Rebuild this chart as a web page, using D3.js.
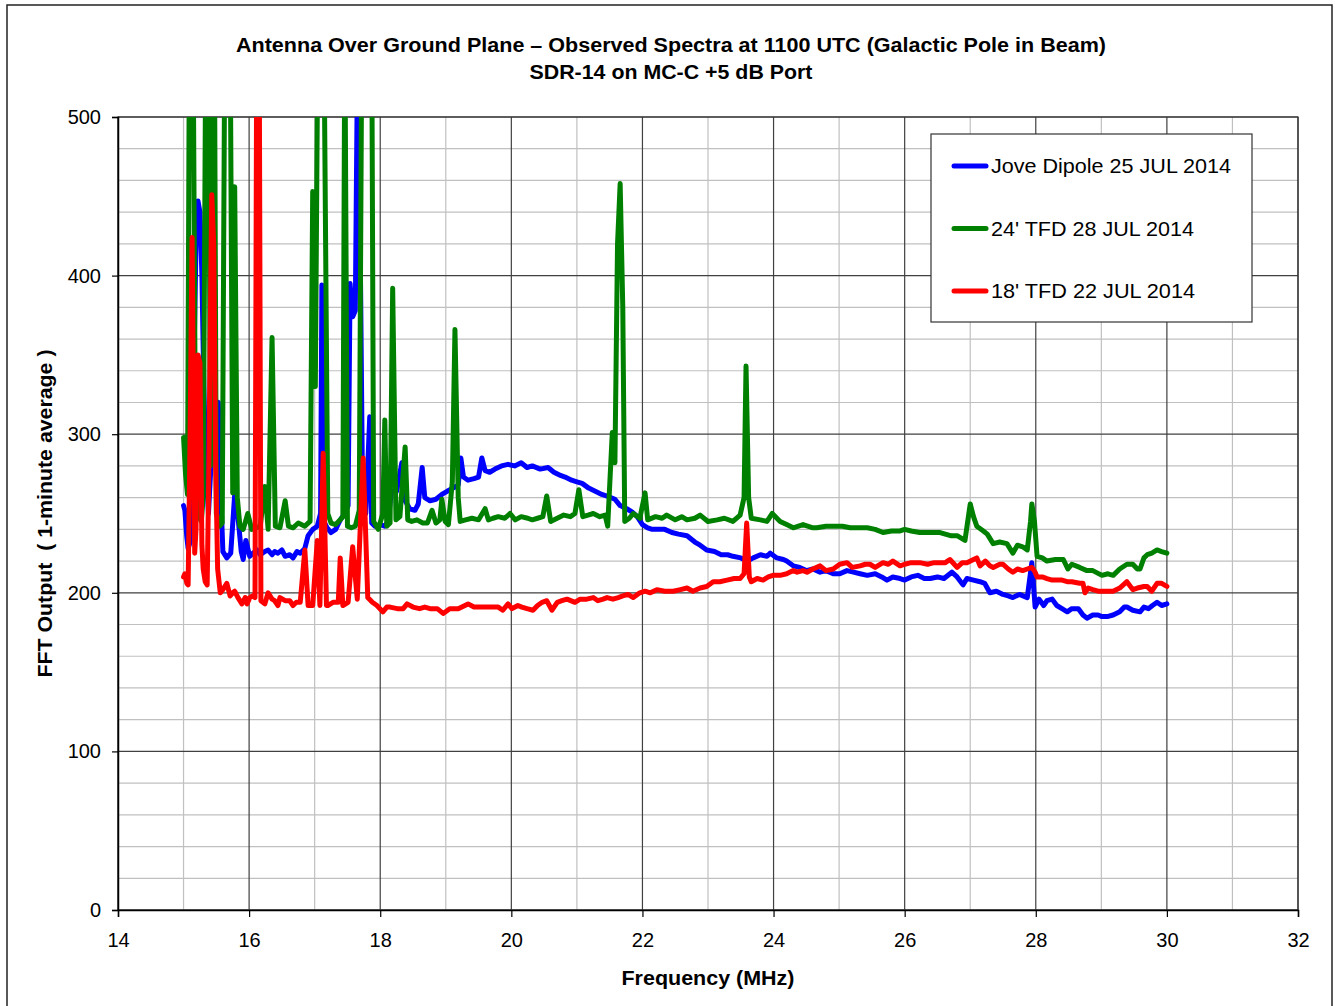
<!DOCTYPE html>
<html>
<head>
<meta charset="utf-8">
<script src="https://cdn.jsdelivr.net/npm/d3@7"></script>
<style>
  html, body { margin: 0; padding: 0; background: #fff; }
  svg { display: block; font-family: "Liberation Sans", Arial, sans-serif; }
  .tick text { font-size: 20px; fill: #000; }
</style>
</head>
<body>
<svg id="chart" width="1335" height="1006"></svg>
<script>
// spectra: [frequency MHz, FFT output]
const jovePts = [
  [15.00, 255], [15.02, 252], [15.05, 235], [15.07, 228], [15.10, 232], [15.14, 300], [15.19, 420], [15.22, 447],
  [15.25, 440], [15.28, 400], [15.31, 330], [15.34, 280], [15.38, 250], [15.43, 290], [15.48, 318], [15.53, 320],
  [15.57, 260], [15.60, 226], [15.66, 222], [15.72, 225], [15.78, 262], [15.83, 248], [15.88, 226], [15.91, 221],
  [15.95, 233], [15.98, 228], [16.01, 223], [16.06, 225], [16.12, 227], [16.17, 224], [16.24, 226], [16.29, 227],
  [16.35, 224], [16.39, 226], [16.44, 225], [16.50, 227], [16.55, 223], [16.62, 224], [16.67, 222], [16.73, 226],
  [16.78, 225], [16.85, 228], [16.90, 236], [16.97, 240], [17.04, 242], [17.09, 250], [17.11, 394], [17.14, 245],
  [17.19, 241], [17.25, 238], [17.32, 240], [17.39, 246], [17.46, 250], [17.51, 255], [17.54, 395], [17.58, 374],
  [17.62, 378], [17.65, 520], [17.68, 520], [17.70, 395], [17.73, 265], [17.78, 250], [17.84, 311], [17.87, 244],
  [17.92, 242], [18.00, 243], [18.07, 242], [18.12, 245], [18.17, 264], [18.25, 264], [18.33, 282], [18.38, 258],
  [18.45, 253], [18.53, 252], [18.58, 256], [18.64, 279], [18.68, 260], [18.76, 258], [18.85, 259], [18.94, 262],
  [19.02, 264], [19.11, 266], [19.19, 268], [19.23, 285], [19.27, 273], [19.34, 271], [19.43, 272], [19.50, 273],
  [19.55, 285], [19.60, 277], [19.67, 276], [19.75, 278], [19.85, 280], [19.95, 281], [20.05, 280], [20.15, 282],
  [20.24, 279], [20.32, 280], [20.44, 278], [20.56, 279], [20.65, 276], [20.75, 274], [20.82, 273], [20.92, 271],
  [21.00, 270], [21.08, 269], [21.18, 266], [21.28, 264], [21.38, 262], [21.46, 261], [21.58, 259], [21.66, 255],
  [21.76, 253], [21.84, 251], [21.92, 248], [22.00, 243], [22.08, 241], [22.15, 240], [22.25, 240], [22.34, 240],
  [22.45, 238], [22.55, 237], [22.68, 236], [22.80, 232], [22.88, 230], [22.98, 227], [23.10, 226], [23.20, 224],
  [23.30, 224], [23.38, 223], [23.50, 222], [23.60, 220], [23.69, 222], [23.80, 224], [23.90, 223], [23.95, 225],
  [24.05, 222], [24.15, 221], [24.20, 220], [24.30, 217], [24.40, 216], [24.50, 214], [24.60, 215], [24.71, 213],
  [24.80, 214], [24.91, 212], [25.01, 212], [25.12, 214], [25.22, 213], [25.32, 212], [25.43, 211], [25.55, 212],
  [25.65, 210], [25.73, 208], [25.82, 210], [25.93, 209], [26.00, 208], [26.10, 210], [26.20, 211], [26.30, 209],
  [26.39, 209], [26.50, 210], [26.60, 209], [26.72, 213], [26.80, 210], [26.89, 205], [26.95, 209], [27.05, 208],
  [27.15, 207], [27.22, 206], [27.30, 200], [27.40, 201], [27.50, 199], [27.58, 198], [27.65, 197], [27.75, 199],
  [27.87, 197], [27.94, 219], [27.99, 191], [28.05, 196], [28.12, 192], [28.17, 195], [28.25, 196], [28.32, 192],
  [28.40, 190], [28.48, 188], [28.55, 190], [28.65, 190], [28.72, 186], [28.78, 184], [28.87, 186], [28.95, 186],
  [29.01, 185], [29.09, 185], [29.18, 186], [29.28, 188], [29.35, 191], [29.39, 191], [29.48, 189], [29.59, 188],
  [29.65, 191], [29.72, 190], [29.78, 192], [29.85, 194], [29.92, 192], [30.00, 193]
]

const tfd24Pts = [
  [15.00, 298], [15.03, 275], [15.06, 262], [15.09, 560], [15.12, 560], [15.15, 520], [15.18, 300], [15.21, 250], [15.27, 245],
  [15.30, 260], [15.34, 560], [15.38, 560], [15.41, 280], [15.44, 560], [15.47, 560], [15.50, 250], [15.55, 242], [15.59, 244], [15.63, 560],
  [15.67, 560], [15.71, 560], [15.75, 263], [15.78, 456], [15.82, 260], [15.86, 242], [15.91, 240], [15.98, 250], [16.04, 240],
  [16.10, 241], [16.17, 242], [16.24, 267], [16.29, 240], [16.35, 361], [16.40, 242], [16.47, 241], [16.55, 258],
  [16.60, 242], [16.67, 241], [16.75, 244], [16.85, 242], [16.93, 245], [16.97, 453], [17.01, 330], [17.05, 560],
  [17.08, 560], [17.11, 560], [17.14, 560], [17.20, 250], [17.25, 244], [17.32, 243], [17.39, 246], [17.43, 248], [17.46, 560], [17.50, 242],
  [17.56, 241], [17.62, 242], [17.68, 252], [17.72, 560], [17.75, 560], [17.78, 560], [17.81, 560], [17.84, 560], [17.87, 560], [17.90, 245],
  [17.97, 240], [18.04, 250], [18.07, 309], [18.10, 242], [18.15, 244], [18.19, 392], [18.24, 246], [18.30, 248],
  [18.38, 292], [18.42, 246], [18.48, 245], [18.56, 246], [18.65, 244], [18.72, 244], [18.79, 252], [18.85, 244],
  [18.91, 246], [18.94, 259], [18.99, 245], [19.04, 243], [19.10, 270], [19.14, 366], [19.19, 260], [19.22, 245],
  [19.30, 246], [19.40, 247], [19.50, 246], [19.60, 253], [19.65, 246], [19.72, 247], [19.80, 248], [19.90, 247],
  [19.98, 250], [20.06, 246], [20.15, 248], [20.25, 247], [20.32, 246], [20.40, 247], [20.48, 248], [20.54, 261],
  [20.60, 245], [20.70, 247], [20.80, 249], [20.90, 248], [20.97, 250], [21.03, 265], [21.09, 248], [21.17, 249],
  [21.25, 250], [21.35, 248], [21.43, 249], [21.47, 242], [21.54, 301], [21.58, 282], [21.62, 420], [21.66, 458],
  [21.70, 380], [21.73, 245], [21.80, 247], [21.86, 250], [21.96, 247], [22.04, 263], [22.08, 246], [22.20, 248],
  [22.30, 247], [22.37, 249], [22.50, 246], [22.60, 248], [22.68, 246], [22.80, 247], [22.88, 249], [23.00, 245],
  [23.14, 246], [23.25, 247], [23.38, 245], [23.49, 249], [23.55, 260], [23.58, 343], [23.62, 260], [23.66, 247],
  [23.80, 246], [23.90, 245], [23.98, 250], [24.10, 245], [24.20, 243], [24.30, 241], [24.45, 243], [24.60, 241],
  [24.66, 241], [24.80, 242], [24.91, 242], [25.05, 242], [25.17, 241], [25.30, 241], [25.43, 241], [25.55, 240],
  [25.67, 238], [25.80, 239], [25.93, 239], [26.00, 240], [26.10, 239], [26.23, 238], [26.40, 238], [26.54, 238],
  [26.70, 236], [26.80, 236], [26.92, 233], [27.00, 256], [27.05, 248], [27.10, 242], [27.20, 239], [27.26, 237],
  [27.35, 231], [27.45, 232], [27.56, 231], [27.65, 225], [27.72, 230], [27.80, 229], [27.87, 227], [27.92, 245],
  [27.94, 256], [27.98, 245], [28.02, 223], [28.10, 222], [28.17, 220], [28.30, 221], [28.42, 221], [28.49, 215],
  [28.55, 218], [28.67, 216], [28.78, 214], [28.87, 214], [29.01, 211], [29.10, 212], [29.18, 211], [29.28, 215],
  [29.39, 218], [29.48, 218], [29.55, 215], [29.59, 215], [29.65, 222], [29.70, 224], [29.77, 225], [29.85, 227],
  [29.92, 226], [30.00, 225]
]

const tfd18Pts = [
  [15.00, 210], [15.02, 212], [15.05, 206], [15.07, 205], [15.10, 300], [15.13, 424], [15.15, 330], [15.17, 225],
  [15.19, 240], [15.22, 350], [15.25, 345], [15.28, 230], [15.30, 215], [15.33, 207], [15.36, 205], [15.38, 260],
  [15.43, 451], [15.46, 420], [15.49, 280], [15.52, 215], [15.56, 200], [15.60, 202], [15.66, 206], [15.71, 198],
  [15.75, 200], [15.78, 201], [15.83, 197], [15.89, 193], [15.94, 197], [15.97, 193], [16.01, 197], [16.05, 198],
  [16.09, 197], [16.12, 600], [16.15, 600], [16.18, 195], [16.24, 193], [16.29, 200], [16.35, 196], [16.39, 195],
  [16.44, 192], [16.47, 197], [16.55, 195], [16.62, 195], [16.67, 192], [16.72, 194], [16.78, 194], [16.85, 227],
  [16.90, 192], [16.97, 192], [17.04, 233], [17.08, 192], [17.13, 288], [17.18, 192], [17.20, 192], [17.28, 194],
  [17.36, 194], [17.39, 222], [17.43, 192], [17.51, 194], [17.58, 229], [17.65, 196], [17.74, 285], [17.81, 197],
  [17.88, 194], [17.95, 192], [18.04, 188], [18.10, 191], [18.15, 191], [18.26, 190], [18.35, 190], [18.41, 193],
  [18.50, 191], [18.60, 190], [18.68, 191], [18.76, 190], [18.87, 190], [18.96, 187], [19.06, 190], [19.19, 190],
  [19.34, 193], [19.43, 191], [19.55, 191], [19.67, 191], [19.80, 191], [19.87, 189], [19.95, 193], [20.01, 190],
  [20.10, 192], [20.16, 191], [20.24, 190], [20.33, 189], [20.40, 192], [20.47, 194], [20.54, 195], [20.62, 189],
  [20.70, 194], [20.77, 195], [20.85, 196], [20.97, 194], [21.05, 196], [21.15, 196], [21.25, 197], [21.32, 195],
  [21.40, 196], [21.46, 197], [21.55, 196], [21.63, 197], [21.70, 198], [21.78, 199], [21.86, 197], [21.96, 200],
  [22.04, 201], [22.12, 200], [22.22, 202], [22.34, 201], [22.47, 201], [22.58, 202], [22.68, 203], [22.77, 201],
  [22.88, 203], [22.98, 204], [23.08, 207], [23.18, 207], [23.29, 208], [23.40, 209], [23.49, 209], [23.55, 212],
  [23.59, 244], [23.63, 210], [23.66, 207], [23.75, 209], [23.84, 208], [23.92, 210], [23.99, 211], [24.10, 211],
  [24.20, 212], [24.30, 214], [24.36, 213], [24.45, 214], [24.51, 213], [24.60, 215], [24.71, 217], [24.80, 214],
  [24.91, 215], [25.01, 218], [25.12, 219], [25.20, 216], [25.32, 217], [25.40, 218], [25.47, 218], [25.55, 216],
  [25.67, 219], [25.75, 218], [25.82, 220], [25.93, 217], [26.00, 218], [26.10, 219], [26.23, 219], [26.35, 218],
  [26.45, 219], [26.54, 219], [26.62, 219], [26.69, 221], [26.80, 216], [26.88, 219], [26.95, 219], [27.05, 221],
  [27.10, 222], [27.15, 217], [27.23, 220], [27.30, 217], [27.35, 216], [27.45, 218], [27.50, 218], [27.58, 215],
  [27.65, 213], [27.72, 215], [27.80, 214], [27.87, 215], [27.94, 216], [27.99, 213], [28.02, 210], [28.10, 210],
  [28.17, 209], [28.25, 208], [28.32, 208], [28.40, 208], [28.48, 207], [28.55, 207], [28.67, 206], [28.72, 206],
  [28.75, 200], [28.80, 203], [28.87, 202], [28.95, 201], [29.05, 201], [29.18, 201], [29.28, 203], [29.39, 207],
  [29.48, 202], [29.55, 203], [29.65, 204], [29.70, 204], [29.77, 201], [29.85, 206], [29.92, 206], [30.00, 204]
]

const seriesNames = ['Jove Dipole 25 JUL 2014', "24' TFD 28 JUL 2014", "18' TFD 22 JUL 2014"]
const seriesColors = ['#0000ff', '#008000', '#ff0000']
const seriesData = [jovePts, tfd24Pts, tfd18Pts]

const xTicks = [14, 16, 18, 20, 22, 24, 26, 28, 30, 32]
const xMinor = [15, 17, 19, 21, 23, 25, 27, 29, 31]
const yTicks = [0, 100, 200, 300, 400, 500]
const yMinor = d3.range(20, 500, 20).filter(v => v % 100 !== 0)

const titleLines = ['Antenna Over Ground Plane \u2013 Observed Spectra at 1100 UTC (Galactic Pole in Beam)', 'SDR-14 on MC-C +5 dB Port']
const titleWidths = [870, 283]
const legendWidths = [240, 203, 204]

const svg = d3.select('#chart')
const plot = { left: 118, right: 1298, top: 117, bottom: 910 }

const x = d3.scaleLinear().domain([14, 32]).range([plot.left, plot.right])
const y = d3.scaleLinear().domain([0, 500]).range([plot.bottom, plot.top])

// outer chart frame
svg.append('rect')
  .attr('x', 7).attr('y', 5).attr('width', 1325).attr('height', 1010)
  .attr('fill', '#fff').attr('stroke', '#222').attr('stroke-width', 1.5)

// grid
const grid = svg.append('g')
grid.selectAll('.vmin').data(xMinor).join('line')
  .attr('x1', d => x(d)).attr('x2', d => x(d)).attr('y1', plot.top).attr('y2', plot.bottom)
  .attr('stroke', '#c0c0c0').attr('stroke-width', 1.2)
grid.selectAll('.hmin').data(yMinor).join('line')
  .attr('y1', d => y(d)).attr('y2', d => y(d)).attr('x1', plot.left).attr('x2', plot.right)
  .attr('stroke', '#c0c0c0').attr('stroke-width', 1.2)
grid.selectAll('.vmaj').data(xTicks).join('line')
  .attr('x1', d => x(d)).attr('x2', d => x(d)).attr('y1', plot.top).attr('y2', plot.bottom)
  .attr('stroke', '#404040').attr('stroke-width', 1.2)
grid.selectAll('.hmaj').data(yTicks).join('line')
  .attr('y1', d => y(d)).attr('y2', d => y(d)).attr('x1', plot.left).attr('x2', plot.right)
  .attr('stroke', '#404040').attr('stroke-width', 1.2)

svg.append('rect')
  .attr('x', plot.left).attr('y', plot.top)
  .attr('width', plot.right - plot.left).attr('height', plot.bottom - plot.top)
  .attr('fill', 'none').attr('stroke', '#333').attr('stroke-width', 1.2)

// axes
const xAxis = svg.append('g')
  .attr('transform', `translate(0,${plot.bottom})`)
  .call(d3.axisBottom(x).tickValues(xTicks).tickSize(7).tickPadding(16).tickFormat(d3.format('d')))
xAxis.select('.domain').attr('stroke', '#000').attr('stroke-width', 1.5)
xAxis.selectAll('.tick line').attr('stroke', '#000').attr('stroke-width', 1.2)

const yAxis = svg.append('g')
  .attr('transform', `translate(${plot.left},0)`)
  .call(d3.axisLeft(y).tickValues(yTicks).tickSize(6).tickPadding(11).tickFormat(d3.format('d')))
yAxis.select('.domain').attr('stroke', '#000').attr('stroke-width', 1.5)
yAxis.selectAll('.tick line').attr('stroke', '#000').attr('stroke-width', 1.2)
svg.selectAll('.tick text').attr('font-family', '"Liberation Sans", Arial, sans-serif').attr('font-size', 20)

// data lines, clipped to the plot box
svg.append('clipPath').attr('id', 'plotclip')
  .append('rect')
  .attr('x', plot.left).attr('y', plot.top)
  .attr('width', plot.right - plot.left).attr('height', plot.bottom - plot.top)

const line = d3.line().x(d => x(d[0])).y(d => y(d[1]))
svg.append('g').attr('clip-path', 'url(#plotclip)')
  .selectAll('path').data(seriesData).join('path')
  .attr('d', line)
  .attr('fill', 'none')
  .attr('stroke', (d, i) => seriesColors[i])
  .attr('stroke-width', 5)
  .attr('stroke-linejoin', 'round')
  .attr('stroke-linecap', 'round')

// titles
svg.selectAll('.title').data(titleLines).join('text')
  .attr('x', 671).attr('y', (d, i) => 52 + i * 27)
  .attr('text-anchor', 'middle')
  .attr('font-size', 19.5).attr('font-weight', 'bold')
  .attr('textLength', (d, i) => titleWidths[i]).attr('lengthAdjust', 'spacingAndGlyphs')
  .text(d => d)

svg.append('text')
  .attr('x', (plot.left + plot.right) / 2).attr('y', 985)
  .attr('text-anchor', 'middle').attr('font-size', 20).attr('font-weight', 'bold')
  .attr('textLength', 173).attr('lengthAdjust', 'spacingAndGlyphs')
  .text('Frequency (MHz)')

svg.append('text')
  .attr('transform', `translate(52,${(plot.top + plot.bottom) / 2}) rotate(-90)`)
  .attr('text-anchor', 'middle').attr('font-size', 20).attr('font-weight', 'bold')
  .attr('xml:space', 'preserve')
  .attr('textLength', 328).attr('lengthAdjust', 'spacingAndGlyphs')
  .text('FFT Output  ( 1-minute average )')

// legend
const legend = svg.append('g')
legend.append('rect')
  .attr('x', 931).attr('y', 134).attr('width', 321).attr('height', 188)
  .attr('fill', '#fff').attr('stroke', '#333').attr('stroke-width', 1.2)
const rows = legend.selectAll('.row').data(seriesNames).join('g')
  .attr('transform', (d, i) => `translate(0,${166 + i * 62.5})`)
rows.append('line')
  .attr('x1', 954).attr('x2', 986)
  .attr('stroke', (d, i) => seriesColors[i]).attr('stroke-width', 5).attr('stroke-linecap', 'round')
rows.append('text')
  .attr('x', 991).attr('y', 7)
  .attr('font-size', 21)
  .attr('textLength', (d, i) => legendWidths[i]).attr('lengthAdjust', 'spacingAndGlyphs')
  .text(d => d)
</script>
</body>
</html>
